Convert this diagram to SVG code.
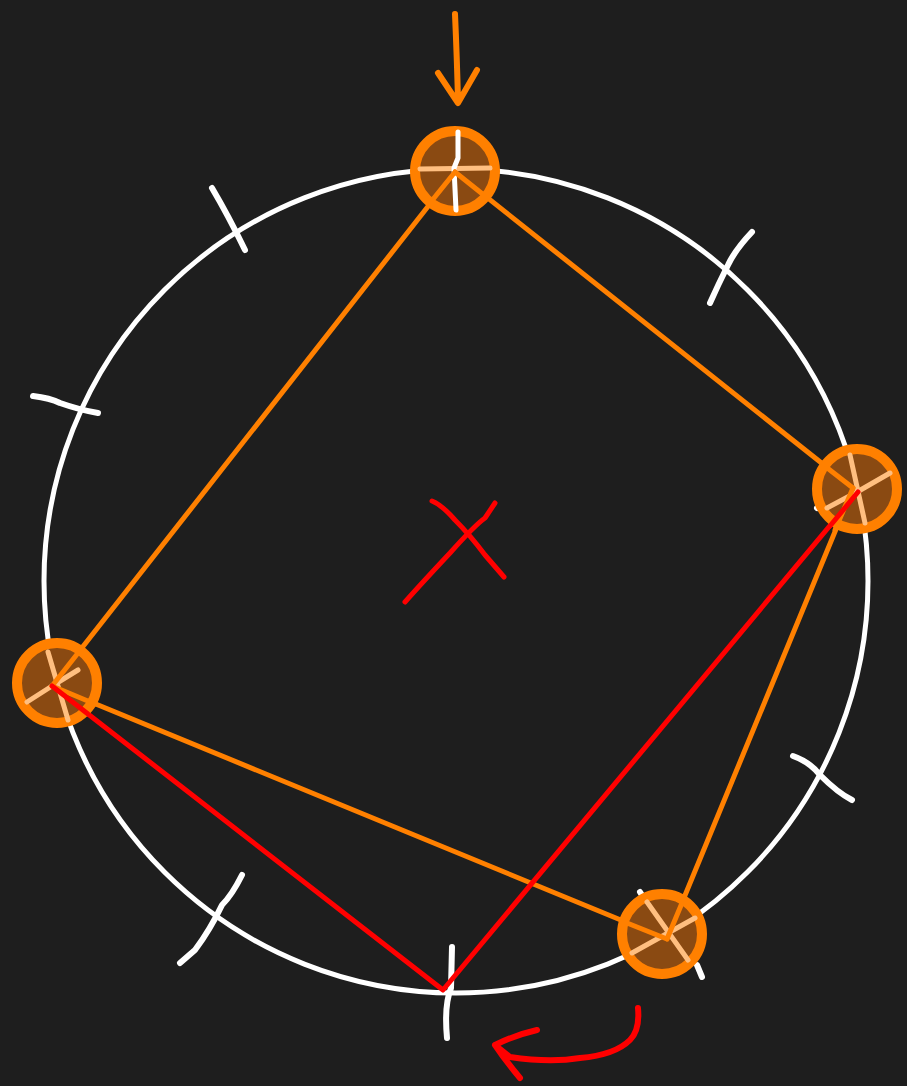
<svg xmlns="http://www.w3.org/2000/svg" width="907" height="1086" viewBox="0 0 907 1086">
<style>
.chalk{fill:none;stroke:#ffffff;stroke-width:5;stroke-linecap:round;stroke-linejoin:round}
.tick{fill:none;stroke:#ffffff;stroke-width:6;stroke-linecap:round;stroke-linejoin:round}
.edge{fill:none;stroke:#ff8000;stroke-width:5;stroke-linecap:round}
.red{fill:none;stroke:#ff0000;stroke-width:5;stroke-linecap:round;stroke-linejoin:round}
.node{fill:#8a4a12;stroke:#ff8000;stroke-width:10}
.inner{fill:none;stroke:#ffbf80;stroke-width:5;stroke-linecap:round}
</style>
<rect x="0" y="0" width="907" height="1086" fill="#1e1e1e"/>
<circle cx="456" cy="581" r="412" class="chalk"/>
<g id="ticks">
<path class="tick" d="M212,188 Q228,215 245,250"/>
<path class="tick" d="M752,232 Q735,250 728,265 Q718,285 710,303"/>
<path class="tick" d="M33,396 Q50,398 60,403 Q80,410 98,413"/>
<path class="tick" d="M793,756 Q810,762 820,775 Q838,793 852,800"/>
<path class="tick" d="M242,875 Q232,895 222,905 Q210,930 195,950 L180,963"/>
<path class="tick" d="M452,947 L451,988 Q444,1005 447,1038"/>
<path class="tick" d="M640,892 L648,905"/>
<path class="tick" d="M697,965 L702,977"/>
<path class="tick" d="M817,508 L822,502"/>
</g>
<g id="connectors">
<line class="edge" x1="455" y1="172" x2="853" y2="488"/>
<line class="edge" x1="455" y1="172" x2="52" y2="686"/>
<line class="edge" x1="853" y1="488" x2="667" y2="939"/>
<line class="edge" x1="52" y1="686" x2="667" y2="939"/>
<polyline class="red" points="52,686 443,990 858,492"/>
<path class="edge" d="M455,14 Q457,60 458,100 M438,73 L458,103 L477,70" style="stroke-width:6;stroke-linejoin:round"/>
<path class="red" d="M638,1008 Q640,1030 630,1040 Q615,1055 580,1058 Q550,1063 510,1057 L495,1045 M537,1030 Q515,1035 495,1045 Q505,1060 520,1078" style="stroke-width:6"/>
</g>
<g id="center-mark">
<path class="red" d="M405,602 Q420,585 450,553 Q475,525 485,518 L495,503"/>
<path class="red" d="M432,501 Q442,505 455,520 Q470,535 485,555 L504,577"/>
</g>
<g id="node-top">
<circle cx="455" cy="171" r="40" class="node"/>
<line class="inner" x1="420" y1="169" x2="490" y2="168"/>
<path class="tick" d="M458,132 L458,158 L454,168 L456,210" style="stroke-width:5"/>
<line class="edge" x1="455" y1="172" x2="430" y2="203"/>
<line class="edge" x1="455" y1="172" x2="485" y2="196"/>
</g>
<g id="node-right">
<circle cx="857" cy="489" r="40" class="node"/>
<line class="inner" x1="850" y1="455" x2="865" y2="523"/>
<line class="inner" x1="890" y1="473" x2="857" y2="492"/>
<line class="inner" x1="857" y1="492" x2="827" y2="508"/>
<line class="edge" x1="853" y1="488" x2="826" y2="467"/>
<line class="edge" x1="853" y1="488" x2="835" y2="530"/>
<line class="red" x1="858" y1="492" x2="830" y2="526"/>
</g>
<g id="node-left">
<circle cx="57" cy="683" r="40" class="node"/>
<line class="inner" x1="48" y1="652" x2="68" y2="720"/>
<line class="inner" x1="27" y1="702" x2="52" y2="686"/>
<line class="inner" x1="52" y1="686" x2="78" y2="670"/>
<line class="edge" x1="52" y1="686" x2="78" y2="653"/>
<line class="edge" x1="52" y1="686" x2="95" y2="704"/>
<line class="red" x1="52" y1="686" x2="88" y2="714"/>
</g>
<g id="node-bottom">
<circle cx="662" cy="934" r="40" class="node"/>
<line class="inner" x1="647" y1="902" x2="688" y2="960"/>
<line class="inner" x1="695" y1="918" x2="632" y2="953"/>
<line class="edge" x1="667" y1="939" x2="682" y2="903"/>
<line class="edge" x1="667" y1="939" x2="627" y2="923"/>
</g>
</svg>
